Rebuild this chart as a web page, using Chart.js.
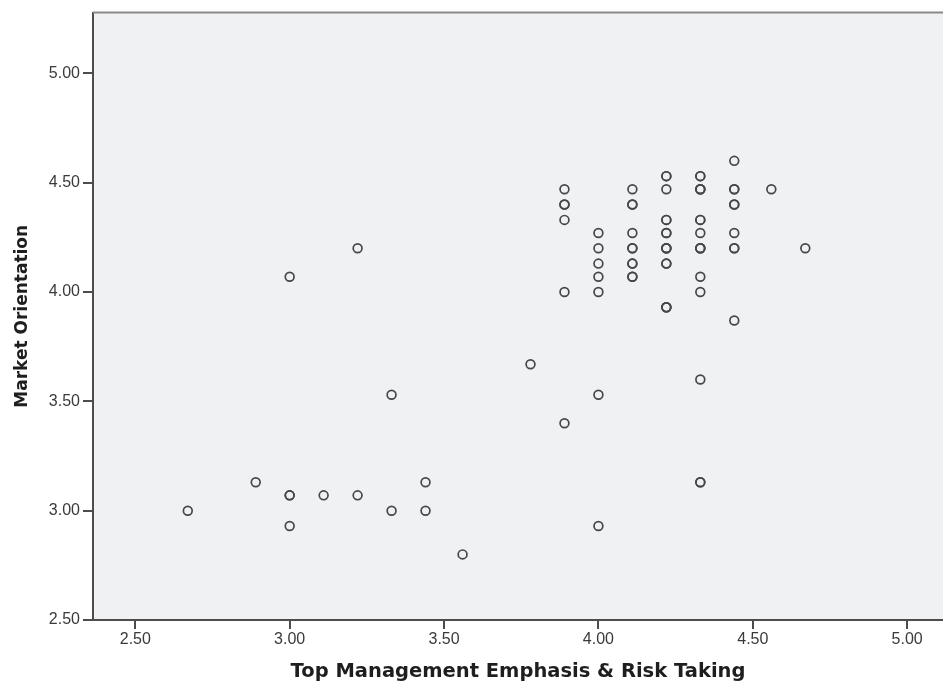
<!DOCTYPE html>
<html>
<head>
<meta charset="utf-8">
<script src="https://cdn.jsdelivr.net/npm/chart.js@4.4.1/dist/chart.umd.min.js"></script>
<style>
  html, body { margin: 0; padding: 0; background: #ffffff; overflow: hidden; }
  #wrap { width: 943px; height: 688px; overflow: hidden; }
  #chart { display: block; }
</style>
</head>
<body>
<div id="wrap"><canvas id="chart" width="943" height="688"></canvas></div>
<script>
// Respondent scores: one entry per case (repeated cases overlap on the plot).
const emphasisRisk = [
  2.67, 2.89, 3.00, 3.00, 3.00, 3.00, 3.11, 3.22, 3.22, 3.33, 3.33, 3.44, 3.44, 3.56, 3.78,
  3.89, 3.89, 3.89, 3.89, 3.89, 3.89,
  4.00, 4.00, 4.00, 4.00, 4.00, 4.00, 4.00,
  4.11, 4.11, 4.11, 4.11, 4.11, 4.11, 4.11, 4.11, 4.11, 4.11,
  4.22, 4.22, 4.22, 4.22, 4.22, 4.22, 4.22, 4.22, 4.22, 4.22, 4.22, 4.22, 4.22, 4.22, 4.22,
  4.33, 4.33, 4.33, 4.33, 4.33, 4.33, 4.33, 4.33, 4.33, 4.33, 4.33, 4.33, 4.33, 4.33, 4.33, 4.33,
  4.44, 4.44, 4.44, 4.44, 4.44, 4.44, 4.44, 4.44, 4.44,
  4.56, 4.67
];
const marketOrientation = [
  3.00, 3.13, 3.07, 3.07, 2.93, 4.07, 3.07, 4.20, 3.07, 3.53, 3.00, 3.13, 3.00, 2.80, 3.67,
  4.47, 4.40, 4.40, 4.33, 4.00, 3.40,
  4.27, 4.20, 4.13, 4.07, 4.00, 3.53, 2.93,
  4.47, 4.40, 4.40, 4.27, 4.20, 4.20, 4.13, 4.13, 4.07, 4.07,
  4.53, 4.53, 4.47, 4.33, 4.33, 4.27, 4.27, 4.20, 4.20, 4.20, 4.13, 4.13, 3.93, 3.93, 3.93,
  4.53, 4.53, 4.47, 4.47, 4.47, 4.33, 4.33, 4.27, 4.20, 4.20, 4.20, 4.07, 4.00, 3.60, 3.13, 3.13,
  4.60, 4.47, 4.47, 4.40, 4.40, 4.27, 4.20, 4.20, 3.87,
  4.47, 4.20
];
const xTicks = [2.50, 3.00, 3.50, 4.00, 4.50, 5.00];
const yTicks = [2.50, 3.00, 3.50, 4.00, 4.50, 5.00];

const points = emphasisRisk.map((x, i) => ({ x: x, y: marketOrientation[i] }));

const axisColor = '#4d4d4d';
const tickFont = { family: 'Liberation Sans, Arial, sans-serif', size: 16 };
const xTitleFont = { family: 'DejaVu Sans, Verdana, sans-serif', size: 19.5, weight: 'bold' };
const yTitleFont = { family: 'DejaVu Sans, Verdana, sans-serif', size: 17, weight: 'bold' };

// Plot-area fill and the light frame line along its top.
const frame = {
  id: 'frame',
  beforeDraw(chart) {
    const { ctx, chartArea: a } = chart;
    ctx.save();
    ctx.fillStyle = '#f0f1f3';
    ctx.fillRect(a.left, a.top, a.right - a.left, a.bottom - a.top);
    ctx.restore();
  },
  afterDraw(chart) {
    const { ctx, chartArea: a } = chart;
    ctx.save();
    ctx.strokeStyle = '#8a8a8a';
    ctx.lineWidth = 2;
    ctx.beginPath();
    ctx.moveTo(a.left, a.top);
    ctx.lineTo(a.right, a.top);
    ctx.stroke();
    ctx.restore();
  }
};

new Chart(document.getElementById('chart'), {
  type: 'scatter',
  data: {
    datasets: [{
      data: points,
      pointStyle: 'circle',
      pointRadius: 4.4,
      pointBorderWidth: 1.7,
      borderColor: '#474747',
      backgroundColor: 'rgba(0,0,0,0)',
      pointHoverRadius: 4.4
    }]
  },
  options: {
    responsive: false,
    animation: false,
    devicePixelRatio: 1,
    layout: { autoPadding: false, padding: { left: 0, right: 0, top: 10, bottom: 0 } },
    plugins: { legend: { display: false }, tooltip: { enabled: false } },
    scales: {
      x: {
        type: 'linear',
        min: 2.363,
        max: 5.116,
        afterBuildTicks: s => { s.ticks = xTicks.map(v => ({ value: v })); },
        afterFit: s => { s.height = 68; s.paddingLeft = 0; s.paddingRight = 0; },
        border: { display: true, color: axisColor, width: 2 },
        grid: { drawOnChartArea: false, drawTicks: true, tickLength: 9, tickWidth: 2, tickColor: axisColor, color: axisColor, lineWidth: 2 },
        ticks: { color: '#3a3a3a', font: tickFont, padding: 1, maxRotation: 0, callback: v => Number(v).toFixed(2) },
        title: { display: true, text: 'Top Management Emphasis & Risk Taking', color: '#1e1e1e', font: xTitleFont, padding: { top: 0, bottom: 4 } }
      },
      y: {
        type: 'linear',
        min: 2.5,
        max: 5.278,
        afterBuildTicks: s => { s.ticks = yTicks.map(v => ({ value: v })); },
        afterFit: s => { s.width = 93; },
        border: { display: true, color: axisColor, width: 2 },
        grid: { drawOnChartArea: false, drawTicks: true, tickLength: 10, tickWidth: 2, tickColor: axisColor, color: axisColor, lineWidth: 2 },
        ticks: { color: '#3a3a3a', font: tickFont, padding: 3, callback: v => Number(v).toFixed(2) },
        title: { display: true, text: 'Market Orientation', color: '#1e1e1e', font: yTitleFont, padding: { top: 12, bottom: 0 } }
      }
    }
  },
  plugins: [frame]
});
</script>
</body>
</html>
